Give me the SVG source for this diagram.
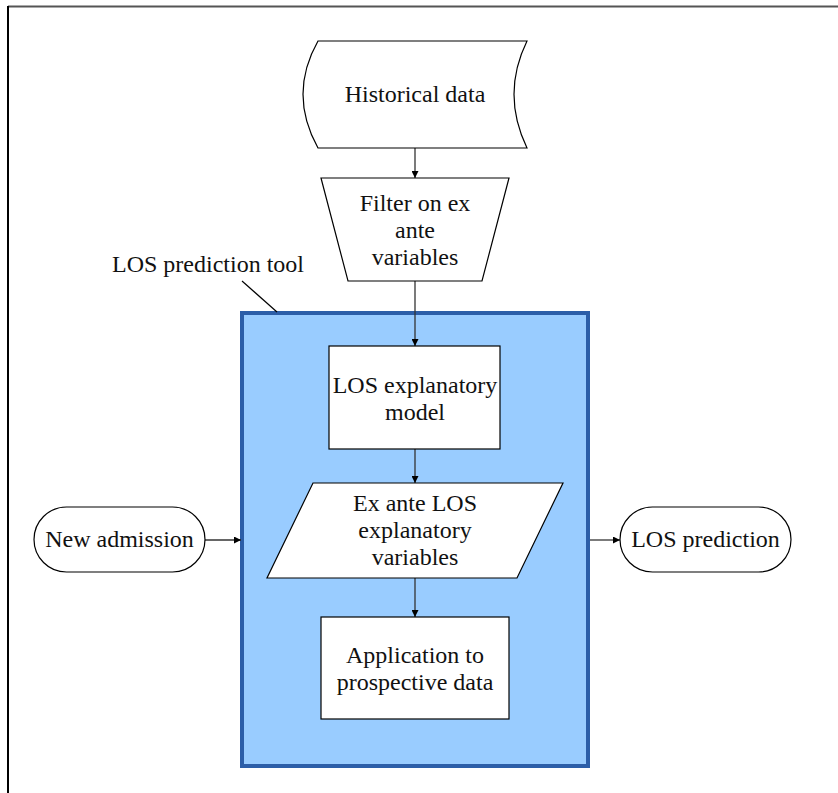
<svg xmlns="http://www.w3.org/2000/svg" width="838" height="793" viewBox="0 0 838 793">
  <style>
    .shape { fill: #ffffff; stroke: #000000; stroke-width: 1.2; }
    .label { font-family: "Liberation Serif", "DejaVu Serif", serif; font-size: 24px; fill: #111111; text-anchor: middle; dominant-baseline: central; }
    .edge { fill: none; stroke: #333333; stroke-width: 1.3; }
  </style>
  <defs>
    <marker id="arrow" viewBox="0 0 10 10" refX="10" refY="5" markerWidth="7" markerHeight="7" markerUnits="userSpaceOnUse" orient="auto">
      <path d="M0,0 L10,5 L0,10 Z" fill="#000000"/>
    </marker>
  </defs>

  <rect width="838" height="793" fill="#ffffff"/>

  <!-- page frame -->
  <g id="frame">
    <line x1="8" y1="6.5" x2="838" y2="6.5" stroke="#555555" stroke-width="2"/>
    <line x1="8" y1="6" x2="8" y2="793" stroke="#000000" stroke-width="2"/>
  </g>

  <!-- tool container -->
  <g id="tool">
    <rect x="242" y="313" width="346" height="453" fill="#99CCFF" stroke="#2C5EA8" stroke-width="4"/>
    <text class="label" x="208" y="264">LOS prediction tool</text>
    <line x1="242" y1="281" x2="277" y2="312" stroke="#000000" stroke-width="1.2"/>
  </g>

  <g id="connectors">
    <line class="edge" x1="415" y1="148" x2="415" y2="178" marker-end="url(#arrow)"/>
    <line class="edge" x1="415" y1="281" x2="415" y2="346" marker-end="url(#arrow)"/>
    <line class="edge" x1="415" y1="449" x2="415" y2="483" marker-end="url(#arrow)"/>
    <line class="edge" x1="415" y1="578" x2="415" y2="617" marker-end="url(#arrow)"/>
    <line class="edge" x1="205" y1="540" x2="241" y2="540" marker-end="url(#arrow)"/>
    <line class="edge" x1="590" y1="540" x2="620" y2="540" marker-end="url(#arrow)"/>
  </g>

  <g id="historical-data">
    <path class="shape" d="M318,41 L527,41 Q501,94 527,148 L318,148 Q288,94 318,41 Z"/>
    <text class="label" x="415" y="94">Historical data</text>
  </g>

  <g id="filter">
    <path class="shape" d="M321,178 L509,178 L482,281 L348,281 Z"/>
    <text class="label" x="415" y="203">Filter on ex</text>
    <text class="label" x="415" y="230">ante</text>
    <text class="label" x="415" y="257">variables</text>
  </g>

  <g id="explanatory-model">
    <rect class="shape" x="329" y="346" width="171" height="103"/>
    <text class="label" x="415" y="385">LOS explanatory</text>
    <text class="label" x="415" y="412">model</text>
  </g>

  <g id="explanatory-variables">
    <path class="shape" d="M313,483 L563,483 L517,578 L267,578 Z"/>
    <text class="label" x="415" y="503">Ex ante LOS</text>
    <text class="label" x="415" y="530">explanatory</text>
    <text class="label" x="415" y="557">variables</text>
  </g>

  <g id="application">
    <rect class="shape" x="321" y="617" width="188" height="102"/>
    <text class="label" x="415" y="655">Application to</text>
    <text class="label" x="415" y="682">prospective data</text>
  </g>

  <g id="new-admission">
    <rect class="shape" x="34" y="507" width="171" height="65" rx="32.5" ry="32.5"/>
    <text class="label" x="119.5" y="539">New admission</text>
  </g>

  <g id="los-prediction">
    <rect class="shape" x="620" y="507" width="171" height="65" rx="32.5" ry="32.5"/>
    <text class="label" x="705.5" y="539">LOS prediction</text>
  </g>
</svg>
